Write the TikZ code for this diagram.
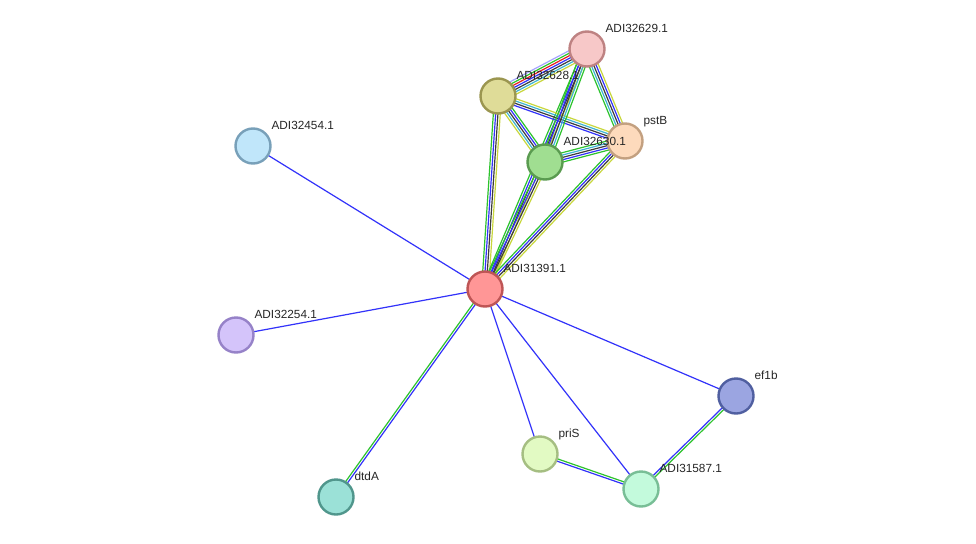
\documentclass[tikz,border=0pt]{standalone}
\usepackage{fontspec}
\setmainfont{Liberation Sans}
\usetikzlibrary{calc,backgrounds}
% node colours
\definecolor{f31391}{RGB}{255,150,150}\definecolor{d31391}{RGB}{190,85,85}
\definecolor{f32629}{RGB}{247,200,200}\definecolor{d32629}{RGB}{190,130,130}
\definecolor{f32628}{RGB}{223,220,152}\definecolor{d32628}{RGB}{155,150,80}
\definecolor{fpstb}{RGB}{253,218,188}\definecolor{dpstb}{RGB}{195,160,128}
\definecolor{f32630}{RGB}{160,222,145}\definecolor{d32630}{RGB}{90,155,80}
\definecolor{f32454}{RGB}{192,230,250}\definecolor{d32454}{RGB}{120,160,185}
\definecolor{f32254}{RGB}{212,196,250}\definecolor{d32254}{RGB}{150,130,200}
\definecolor{fef1b}{RGB}{155,165,225}\definecolor{def1b}{RGB}{80,95,160}
\definecolor{fpris}{RGB}{226,250,195}\definecolor{dpris}{RGB}{165,190,130}
\definecolor{f31587}{RGB}{195,250,220}\definecolor{d31587}{RGB}{120,190,150}
\definecolor{fdtda}{RGB}{155,225,215}\definecolor{ddtda}{RGB}{80,150,140}
% evidence colours
\definecolor{evgreen}{RGB}{45,195,45}
\definecolor{evblue}{RGB}{50,50,250}
\definecolor{evblack}{RGB}{60,60,60}
\definecolor{evyellow}{RGB}{200,215,60}
\definecolor{evcyan}{RGB}{60,180,210}
\definecolor{evred}{RGB}{230,30,30}
\definecolor{evlav}{RGB}{165,165,255}

% protein node + its label
\newcommand{\prot}[5]{%
  \node[prot,fill=f#1,draw=d#1] (#1) at (#2,#3) {};
  \node[lbl] (l#1) at ($(#1.center)+(18,-16.5)$) {#5};}
% bundle of parallel evidence lines between two proteins
\newcommand{\evlink}[3]{%
  \gdef\nlines{0}%
  \foreach \c in {#3}{\xdef\nlines{\the\numexpr\nlines+1\relax}}%
  \foreach \c [count=\i] in {#3}{%
    \pgfmathsetmacro{\off}{(\i-(\nlines+1)/2)*2.3}%
    \draw[ev\c] ($(#1.center)!\off pt!90:(#2.center)$) -- ($(#2.center)!\off pt!-90:(#1.center)$);
  }}

\begin{document}
\begin{tikzpicture}[x=1pt,y=-1pt,
  prot/.style={circle,minimum size=35pt,inner sep=0pt,line width=2.4pt},
  lbl/.style={anchor=base west,inner sep=0pt,font=\fontsize{11.8}{12}\selectfont,text=black!85},
  every path/.append style={line width=1.2pt}
]
  \useasboundingbox (0,0) rectangle (976,543);

  \prot{32629}{587}{49}{d}{ADI32629.1}
  \prot{32628}{498}{96}{d}{ADI32628.1}
  \prot{pstb}{625}{141}{d}{pstB}
  \prot{32630}{545}{162}{d}{ADI32630.1}
  \prot{32454}{253}{146}{d}{ADI32454.1}
  \prot{31391}{485}{289}{d}{ADI31391.1}
  \prot{32254}{236}{335}{d}{ADI32254.1}
  \prot{ef1b}{736}{396}{d}{ef1b}
  \prot{pris}{540}{454}{d}{priS}
  \prot{31587}{641}{489}{d}{ADI31587.1}
  \prot{dtda}{336}{497}{d}{dtdA}

  \begin{pgfonlayer}{background}
    \fill[white] (0,0) rectangle (976,543);
    \evlink{31391}{32454}{blue}
    \evlink{31391}{32254}{blue}
    \evlink{31391}{ef1b}{blue}
    \evlink{31391}{pris}{blue}
    \evlink{31391}{31587}{blue}
    \evlink{31391}{dtda}{green,blue}
    \evlink{pris}{31587}{blue,green}
    \evlink{31587}{ef1b}{green,blue}
    \evlink{31391}{32628}{yellow,black,blue,green}
    \evlink{31391}{32629}{yellow,black,blue,green}
    \evlink{31391}{32630}{yellow,black,blue,green}
    \evlink{31391}{pstb}{yellow,black,blue,green}
    \evlink{32628}{32629}{yellow,cyan,black,blue,red,green,lav}
    \evlink{32628}{pstb}{blue,black,cyan,yellow}
    \evlink{32628}{32630}{yellow,cyan,black,blue,green}
    \evlink{32629}{32630}{green,blue,black,cyan,green}
    \evlink{32629}{pstb}{green,cyan,black,blue,yellow}
    \evlink{32630}{pstb}{green,blue,black,cyan,green}
  \end{pgfonlayer}
\end{tikzpicture}
\end{document}
